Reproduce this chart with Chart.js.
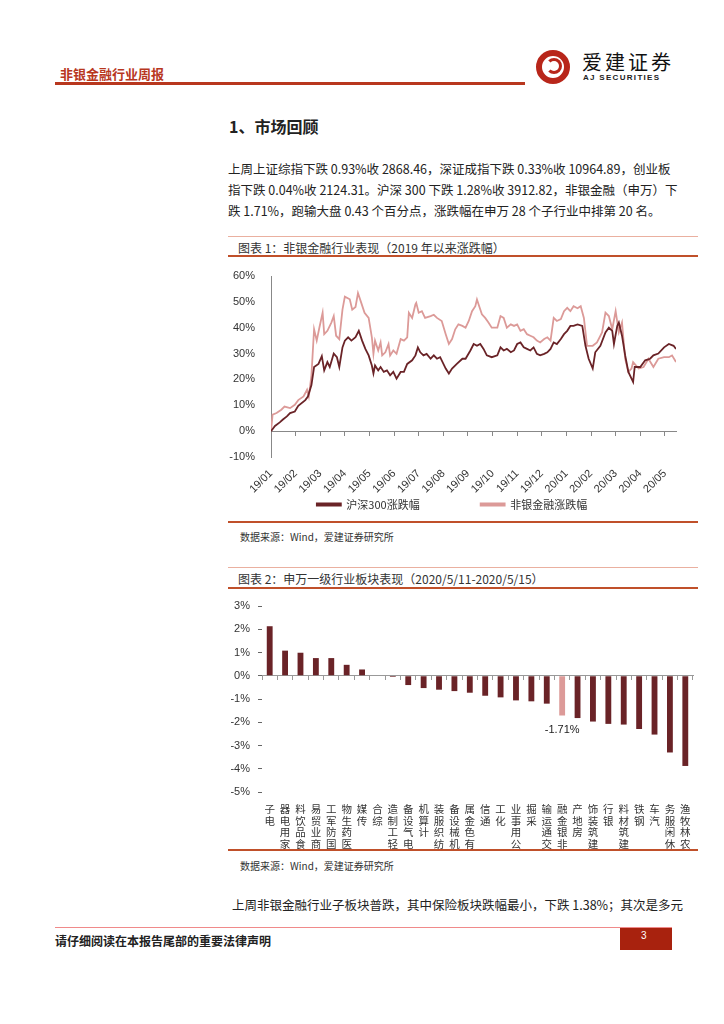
<!DOCTYPE html>
<html>
<head>
<meta charset="utf-8">
<script src="https://cdn.jsdelivr.net/npm/chart.js@4.4.1/dist/chart.umd.min.js"></script>
<style>
  body { margin: 0; background: #fff; }
  #page { position: relative; width: 724px; height: 1024px; overflow: hidden; font-family: "Noto Sans CJK SC", sans-serif; color: #222; }
  .abs { position: absolute; white-space: nowrap; }
  .line { position: absolute; }
  .para { position: absolute; left: 228px; width: 439px; font-size: 12.5px; text-align: justify; text-align-last: justify; white-space: nowrap; }
  .caption { font-size: 12px; color: #333; }
  .source { font-size: 10px; color: #333; }
</style>
</head>
<body>
<div id="page">
  <!-- header -->
  <div class="abs" style="left:60px;top:64px;font-size:13px;font-weight:bold;color:#b8371e;">非银金融行业周报</div>
  <div class="line" style="left:55px;top:82px;width:470px;height:3px;background:#b8371e;"></div>
  <div class="abs" style="left:536px;top:50px;width:22px;height:22px;border:6px solid #b8261a;border-radius:50%;"></div>
  <div class="abs" style="left:546px;top:58px;width:10px;height:10px;border:3px solid #b8261a;border-left-color:transparent;border-radius:50%;"></div>
  <div class="abs" style="left:582px;top:47px;font-size:20px;letter-spacing:3px;color:#111;">爱建证券</div>
  <div class="abs" style="left:583px;top:73px;font-size:8px;font-weight:bold;letter-spacing:1.3px;font-family:'Liberation Sans',Arial,sans-serif;">AJ SECURITIES</div>

  <div class="abs" style="left:229px;top:114px;font-size:16px;font-weight:bold;">1、市场回顾</div>
  <div class="para" style="top:159px;">上周上证综指下跌 0.93%收 2868.46，深证成指下跌 0.33%收 10964.89，创业板</div>
  <div class="para" style="top:180px;">指下跌 0.04%收 2124.31。沪深 300 下跌 1.28%收 3912.82，非银金融（申万）下</div>
  <div class="para" style="top:201px;width:424px;">跌 1.71%，跑输大盘 0.43 个百分点，涨跌幅在申万 28 个子行业中排第 20 名。</div>

  <!-- chart 1 frame -->
  <div class="line" style="left:228px;top:236px;width:470px;height:1px;background:#eab0a0;"></div>
  <div class="abs caption" style="left:238px;top:239px;">图表 1：非银金融行业表现（2019 年以来涨跌幅）</div>
  <div class="line" style="left:228px;top:255px;width:470px;height:2px;background:#c0502a;"></div>
  <div class="abs" style="left:228px;top:258px;width:470px;height:262px;"><canvas id="lineChart"></canvas></div>
  <div class="line" style="left:228px;top:521px;width:470px;height:2px;background:#c0502a;"></div>
  <div class="abs source" style="left:240px;top:529px;">数据来源：Wind，爱建证券研究所</div>

  <!-- chart 2 frame -->
  <div class="line" style="left:228px;top:567px;width:470px;height:1px;background:#eab0a0;"></div>
  <div class="abs caption" style="left:238px;top:570px;">图表 2：申万一级行业板块表现（2020/5/11-2020/5/15）</div>
  <div class="line" style="left:228px;top:587px;width:470px;height:2px;background:#c0502a;"></div>
  <div class="abs" style="left:228px;top:590px;width:470px;height:259px;"><canvas id="barChart"></canvas></div>
  <div class="line" style="left:228px;top:849px;width:470px;height:2px;background:#c0502a;"></div>
  <div class="abs source" style="left:240px;top:858px;">数据来源：Wind，爱建证券研究所</div>

  <div class="para" style="left:232px;top:895px;width:451px;">上周非银金融行业子板块普跌，其中保险板块跌幅最小，下跌 1.38%；其次是多元</div>

  <!-- footer -->
  <div class="line" style="left:55px;top:927px;width:617px;height:1px;background:#f08a8a;"></div>
  <div class="abs" style="left:55px;top:932px;font-size:12px;font-weight:bold;">请仔细阅读在本报告尾部的重要法律声明</div>
  <div class="line" style="left:620px;top:928px;width:52px;height:22px;background:#a8220e;"></div>
  <div class="abs" style="left:641px;top:930px;font-size:10px;color:#fff;font-family:'Liberation Sans',Arial,sans-serif;">3</div>
</div>

<script>
// ---- chart 1 data: cumulative change since 2019 (%) ----
const monthLabels = ['19/01', '19/02', '19/03', '19/04', '19/05', '19/06', '19/07', '19/08', '19/09',
    '19/10', '19/11', '19/12', '20/01', '20/02', '20/03', '20/04', '20/05'];

const hs300Dates = ['2019-01-01', '2019-01-06', '2019-01-12', '2019-01-16', '2019-01-21', '2019-01-25', '2019-01-31',
    '2019-02-04', '2019-02-12', '2019-02-15', '2019-02-19', '2019-02-22', '2019-02-27',
    '2019-03-03', '2019-03-06', '2019-03-10', '2019-03-13', '2019-03-18', '2019-03-22', '2019-03-25', '2019-03-29',
    '2019-04-01', '2019-04-05', '2019-04-09', '2019-04-14', '2019-04-18', '2019-04-22', '2019-04-26', '2019-04-30',
    '2019-05-04', '2019-05-06', '2019-05-08', '2019-05-12', '2019-05-15', '2019-05-19', '2019-05-23', '2019-05-27', '2019-05-31',
    '2019-06-04', '2019-06-09', '2019-06-13', '2019-06-17', '2019-06-23', '2019-06-27', '2019-06-30',
    '2019-07-03', '2019-07-07', '2019-07-11', '2019-07-16', '2019-07-20', '2019-07-24', '2019-07-28',
    '2019-08-04', '2019-08-08', '2019-08-12', '2019-08-18', '2019-08-25', '2019-08-29',
    '2019-09-04', '2019-09-08', '2019-09-12', '2019-09-16', '2019-09-20', '2019-09-24', '2019-09-30',
    '2019-10-07', '2019-10-11', '2019-10-15', '2019-10-19', '2019-10-24', '2019-10-28',
    '2019-11-01', '2019-11-05', '2019-11-09', '2019-11-13', '2019-11-17', '2019-11-21', '2019-11-25', '2019-11-29',
    '2019-12-04', '2019-12-08', '2019-12-12', '2019-12-16', '2019-12-20', '2019-12-25', '2019-12-29',
    '2020-01-02', '2020-01-06', '2020-01-10', '2020-01-15', '2020-01-21', '2020-01-25', '2020-01-29',
    '2020-02-03', '2020-02-06', '2020-02-12', '2020-02-18', '2020-02-22', '2020-02-26', '2020-02-28',
    '2020-03-03', '2020-03-05', '2020-03-09', '2020-03-13', '2020-03-17', '2020-03-21', '2020-03-23', '2020-03-25',
    '2020-04-01', '2020-04-07', '2020-04-13', '2020-04-17', '2020-04-23', '2020-04-30',
    '2020-05-06', '2020-05-12', '2020-05-15'];
const hs300Values = [0, 2, 3.4, 4.5, 5.7, 7, 7.6,
    9.8, 12, 13.4, 17.8, 24.8, 26,
    29, 23.5, 26.7, 24.8, 30, 28.6, 24.8, 32.4,
    35, 36.3, 35, 36.3, 38.8, 35, 31.8, 29.3,
    25.4, 22.3, 25.4, 23.5, 24.8, 22.9, 23.5, 21.6, 22.9,
    20.3, 22.9, 22.9, 26, 27.4, 29.3, 32.4,
    30.5, 29.3, 29.9, 28, 29.3, 28, 28.6,
    24.2, 22.3, 24.2, 26, 28, 28,
    31.2, 33.7, 33, 33.7, 31.8, 29.3, 28.6,
    29.3, 32.4, 31.2, 31.8, 30.5, 31.2,
    33.7, 34.3, 32.4, 31.8, 31.2, 32.4, 29.9, 29.3,
    29.9, 30.5, 31.8, 34.3, 33.7, 35.6, 37.5,
    38.8, 40.7, 40.7, 41.3, 40.7, 33, 28,
    24.2, 30.5, 33, 38.2, 40, 38.8, 33.7,
    40.7, 42, 36.9, 29.3, 22.9, 20.3, 19, 24.8,
    24.8, 27.4, 28, 29.3, 30, 32.4,
    33.7, 33, 31.8];

const nonBankDates = ['2019-01-01', '2019-01-03', '2019-01-08', '2019-01-14', '2019-01-18', '2019-01-25', '2019-01-31',
    '2019-02-04', '2019-02-10', '2019-02-14', '2019-02-16', '2019-02-19', '2019-02-22', '2019-02-25', '2019-02-28',
    '2019-03-04', '2019-03-06', '2019-03-10', '2019-03-15', '2019-03-18', '2019-03-21', '2019-03-25', '2019-03-29',
    '2019-04-01', '2019-04-07', '2019-04-10', '2019-04-14', '2019-04-17', '2019-04-21', '2019-04-25', '2019-04-30',
    '2019-05-04', '2019-05-06', '2019-05-08', '2019-05-12', '2019-05-15', '2019-05-17', '2019-05-21', '2019-05-25', '2019-05-27', '2019-05-31',
    '2019-06-04', '2019-06-09', '2019-06-13', '2019-06-17', '2019-06-19', '2019-06-23', '2019-06-27', '2019-06-28',
    '2019-07-01', '2019-07-05', '2019-07-09', '2019-07-16', '2019-07-20', '2019-07-24', '2019-07-30',
    '2019-08-04', '2019-08-08', '2019-08-12', '2019-08-16', '2019-08-20', '2019-08-25', '2019-08-29',
    '2019-09-02', '2019-09-06', '2019-09-10', '2019-09-12', '2019-09-14', '2019-09-18', '2019-09-22', '2019-09-26', '2019-09-30',
    '2019-10-07', '2019-10-11', '2019-10-15', '2019-10-19', '2019-10-24', '2019-10-28',
    '2019-11-01', '2019-11-05', '2019-11-09', '2019-11-13', '2019-11-17', '2019-11-21', '2019-11-25', '2019-11-29',
    '2019-12-04', '2019-12-08', '2019-12-12', '2019-12-16', '2019-12-20', '2019-12-25', '2019-12-29',
    '2020-01-02', '2020-01-06', '2020-01-10', '2020-01-15', '2020-01-19', '2020-01-23', '2020-01-27',
    '2020-02-03', '2020-02-08', '2020-02-14', '2020-02-18', '2020-02-22', '2020-02-26',
    '2020-03-01', '2020-03-05', '2020-03-09', '2020-03-13', '2020-03-17', '2020-03-21', '2020-03-23', '2020-03-30',
    '2020-04-05', '2020-04-11', '2020-04-17', '2020-04-23', '2020-04-30',
    '2020-05-06', '2020-05-10', '2020-05-15'];
const nonBankValues = [0, 6.4, 7, 8.3, 9.5, 8.9, 10.2,
    12, 13.4, 16, 13.4, 21.6, 39.4, 35, 40,
    45.8, 37.5, 38.8, 42, 44.5, 36.9, 35.6, 47,
    52, 51, 47, 48, 53.4, 49.6, 45.8, 43.8,
    36.3, 29.9, 35, 31.2, 34.3, 29.3, 30.5, 33.7, 29.3, 31.2,
    29.9, 35.6, 35, 36.3, 45.8, 43.8, 49, 49.6,
    45.8, 46.4, 43.8, 44.5, 45, 43.8, 42.6,
    37.5, 33.7, 35.6, 39.4, 41.3, 40.7, 40,
    42.6, 46.4, 48.3, 50.9, 49, 45.2, 43.8, 42, 40,
    40, 44.5, 43.8, 40, 41.3, 40.7,
    41.3, 38.8, 39.4, 37.5, 36.9, 36.3, 35, 34.3,
    35.6, 36.3, 35, 43.8, 42.6, 43.3, 46.4,
    47.7, 46.4, 48.3, 47.5, 48.3, 43.8, 33,
    33, 34.3, 38.2, 45.8, 44.5, 39.4,
    46.4, 38.2, 42, 28, 22.9, 24.2, 26.7, 24.2,
    24.8, 28, 24.8, 28, 28.6,
    28.6, 29.3, 26.7];

// ---- chart 2 data: weekly change by Shenwan level-1 industry (%) ----
const industries = ['电子', '家用电器', '食品饮料', '商业贸易', '国防军工', '医药生物', '传媒', '综合', '轻工制造',
    '电气设备', '计算机', '纺织服装', '机械设备', '有色金属', '通信', '化工', '公用事业', '采掘', '交通运输',
    '非银金融', '房地产', '建筑装饰', '银行', '建筑材料', '钢铁', '汽车', '休闲服务', '农林牧渔'];
const weeklyChange = [2.13, 1.08, 0.99, 0.76, 0.76, 0.47, 0.27, 0, -0.05,
    -0.40, -0.53, -0.60, -0.66, -0.73, -0.86, -0.93, -1.06, -1.10, -1.20,
    -1.71, -1.82, -1.97, -2.07, -2.10, -2.29, -2.53, -3.30, -3.88];
const highlight = '非银金融';

const DARK = '#6a2327';
const LIGHT = '#dc9a98';
const numFont = "'Liberation Sans', Arial, 'Noto Sans CJK SC', sans-serif";
Chart.defaults.font.family = numFont;
Chart.defaults.color = '#333';
Chart.defaults.animation = false;

// date string -> position in months since 2019-01-01
function monthPos(str) {
    const [y, m, d] = str.split('-').map(Number);
    const days = new Date(y, m, 0).getDate();
    return (y - 2019) * 12 + (m - 1) + (d - 1) / days;
}
const xMax = monthPos(hs300Dates[hs300Dates.length - 1]);
const monthTicks = axis => { axis.ticks = monthLabels.map((_, i) => ({ value: i })); };

new Chart(document.getElementById('lineChart'), {
    type: 'line',
    data: {
        datasets: [{
            label: '沪深300涨跌幅\u3000\u3000\u3000\u3000\u3000',
            data: hs300Dates.map((d, i) => ({ x: monthPos(d), y: hs300Values[i] })),
            borderColor: DARK,
            backgroundColor: DARK,
            borderWidth: 1.8,
            pointRadius: 0,
            order: 1
        }, {
            label: '非银金融涨跌幅',
            data: nonBankDates.map((d, i) => ({ x: monthPos(d), y: nonBankValues[i] })),
            borderColor: LIGHT,
            backgroundColor: LIGHT,
            borderWidth: 1.8,
            pointRadius: 0,
            order: 2
        }]
    },
    options: {
        responsive: true,
        maintainAspectRatio: false,
        layout: { padding: { top: 18, right: 22, bottom: 0, left: 0 } },
        plugins: {
            tooltip: { enabled: false },
            legend: {
                position: 'bottom',
                labels: { boxWidth: 24, boxHeight: 2, padding: 6, font: { size: 11, family: "'Noto Sans CJK SC', sans-serif" }, color: '#333' }
            }
        },
        scales: {
            x: {
                type: 'linear',
                position: { y: 0 },
                min: 0,
                max: xMax,
                afterBuildTicks: monthTicks,
                ticks: { display: false },
                grid: { drawOnChartArea: false, tickLength: 4, color: '#888' },
                border: { color: '#888' }
            },
            x2: {
                type: 'linear',
                position: 'bottom',
                min: 0,
                max: xMax,
                afterBuildTicks: monthTicks,
                afterFit: s => { s.height = 36; },
                ticks: {
                    autoSkip: false,
                    maxRotation: 45,
                    minRotation: 45,
                    padding: 2,
                    font: { size: 11 },
                    callback: (v, i) => monthLabels[i]
                },
                grid: { display: false },
                border: { display: false }
            },
            y: {
                min: -10,
                max: 60,
                afterFit: s => { s.width = 43; },
                ticks: { stepSize: 10, font: { size: 11 }, padding: 8, callback: v => v + '%' },
                grid: { display: false },
                border: { color: '#888' }
            }
        }
    }
});

// label under the highlighted bar
const barLabel = {
    id: 'barLabel',
    afterDatasetsDraw(chart) {
        const idx = industries.indexOf(highlight);
        const bar = chart.getDatasetMeta(0).data[idx];
        const ctx = chart.ctx;
        ctx.save();
        ctx.font = '11px ' + numFont;
        ctx.fillStyle = '#222';
        ctx.textAlign = 'center';
        ctx.textBaseline = 'middle';
        ctx.fillText(weeklyChange[idx].toFixed(2) + '%', bar.x, bar.y + 14);
        ctx.restore();
    }
};

new Chart(document.getElementById('barChart'), {
    type: 'bar',
    data: {
        labels: industries,
        datasets: [{
            data: weeklyChange,
            backgroundColor: industries.map(n => n === highlight ? LIGHT : DARK),
            barPercentage: 0.38,
            categoryPercentage: 1
        }]
    },
    options: {
        responsive: true,
        maintainAspectRatio: false,
        layout: { padding: { top: 16, right: 5, bottom: 0, left: 0 } },
        plugins: { legend: { display: false }, tooltip: { enabled: false } },
        scales: {
            x: {
                position: { y: 0 },
                offset: true,
                ticks: { display: false },
                grid: { offset: true, drawOnChartArea: false, tickLength: 4, color: '#999' },
                border: { color: '#999' }
            },
            x2: {
                type: 'category',
                position: 'bottom',
                labels: industries,
                offset: true,
                afterFit: s => { s.height = 57; },
                ticks: {
                    autoSkip: false,
                    maxRotation: 0,
                    minRotation: 0,
                    padding: 3,
                    font: { size: 10.5, family: "'Noto Sans CJK SC', sans-serif", lineHeight: 1.12 },
                    // stacked characters, read from the bottom up as in the source
                    callback: (v, i) => industries[i].split('').reverse()
                },
                grid: { display: false },
                border: { display: false }
            },
            y: {
                min: -5,
                max: 3,
                afterFit: s => { s.width = 34; },
                ticks: { stepSize: 1, font: { size: 11 }, padding: 8, callback: v => v + '%' },
                grid: { drawOnChartArea: false, tickLength: 4, color: '#666' },
                border: { display: false }
            }
        }
    },
    plugins: [barLabel]
});
</script>
</body>
</html>
